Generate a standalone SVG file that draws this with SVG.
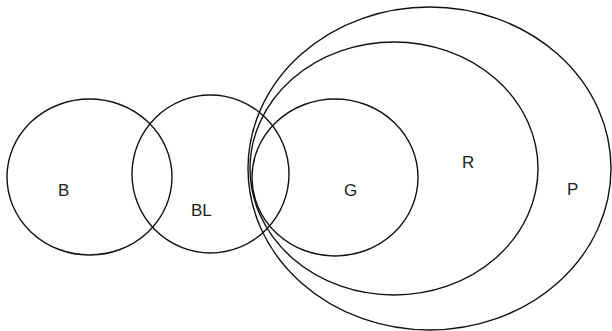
<svg xmlns="http://www.w3.org/2000/svg" width="612" height="331" viewBox="0 0 612 331">
<style>
.s{fill:none;stroke:#111;stroke-width:1.4}
.t{font-family:"Liberation Sans",Arial,sans-serif;font-size:17px;fill:#222}
</style>
<rect width="612" height="331" fill="#fff"/>
<g id="B"><ellipse class="s" cx="89.5" cy="177" rx="82.5" ry="78"/><text class="t" x="58" y="196">B</text></g>
<g id="BL"><ellipse class="s" cx="210.5" cy="174" rx="78.5" ry="79"/><text class="t" x="191" y="216">BL</text></g>
<g id="G"><ellipse class="s" cx="335" cy="177.5" rx="83" ry="78.5"/><text class="t" x="344" y="196">G</text></g>
<g id="R"><ellipse class="s" cx="394" cy="168.5" rx="144" ry="126.5"/><text class="t" x="462" y="168">R</text></g>
<g id="P"><ellipse class="s" cx="429.5" cy="168.5" rx="181.5" ry="161.5"/><text class="t" x="567" y="195">P</text></g>
<g id="connectors"/>
</svg>
